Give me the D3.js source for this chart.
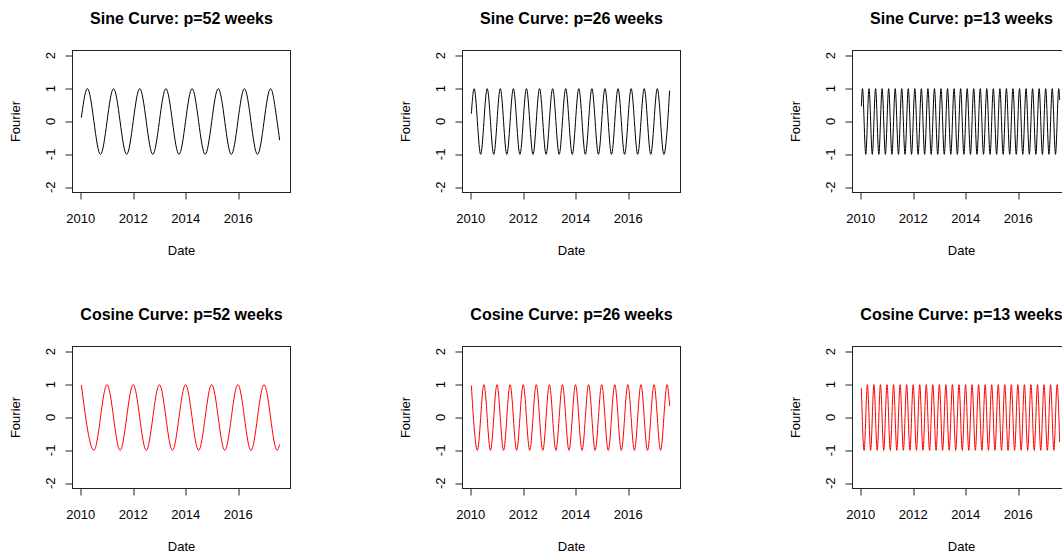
<!DOCTYPE html>
<meta charset="utf-8">
<style>
body { margin: 0; background: #fff; }
svg { display: block; font-family: "Liberation Sans", Arial, sans-serif; }
.tick-label { font-size: 13px; fill: #000; }
.axis-title { font-size: 13px; fill: #000; }
.main-title { font-size: 16px; font-weight: bold; fill: #000; }
</style>
<body>
<svg id="chart" width="1062" height="558"></svg>
<script src="https://cdn.jsdelivr.net/npm/d3@7"></script>
<script>

// turning points of each weekly series: [week number, value]
var sine52 = [[1,0.12],[13,1],[39,-1],[65,1],[91,-1],[117,1],[143,-1],[169,1],[195,-1],[221,1],
  [247,-1],[273,1],[299,-1],[325,1],[351,-1],[377,1],[390,0],[395,-0.57]];
var sine26 = [[1,0.24],[6.5,1],[19.5,-1],[32.5,1],[45.5,-1],[58.5,1],[71.5,-1],[84.5,1],[97.5,-1],
  [110.5,1],[123.5,-1],[136.5,1],[149.5,-1],[162.5,1],[175.5,-1],[188.5,1],[201.5,-1],[214.5,1],
  [227.5,-1],[240.5,1],[253.5,-1],[266.5,1],[279.5,-1],[292.5,1],[305.5,-1],[318.5,1],[331.5,-1],
  [344.5,1],[357.5,-1],[370.5,1],[383.5,-1],[395,0.94]];
var sine13 = [[1,0.46],[3.25,1],[9.75,-1],[16.25,1],[22.75,-1],[29.25,1],[35.75,-1],[42.25,1],
  [48.75,-1],[55.25,1],[61.75,-1],[68.25,1],[74.75,-1],[81.25,1],[87.75,-1],[94.25,1],[100.75,-1],
  [107.25,1],[113.75,-1],[120.25,1],[126.75,-1],[133.25,1],[139.75,-1],[146.25,1],[152.75,-1],
  [159.25,1],[165.75,-1],[172.25,1],[178.75,-1],[185.25,1],[191.75,-1],[198.25,1],[204.75,-1],
  [211.25,1],[217.75,-1],[224.25,1],[230.75,-1],[237.25,1],[243.75,-1],[250.25,1],[256.75,-1],
  [263.25,1],[269.75,-1],[276.25,1],[282.75,-1],[289.25,1],[295.75,-1],[302.25,1],[308.75,-1],
  [315.25,1],[321.75,-1],[328.25,1],[334.75,-1],[341.25,1],[347.75,-1],[354.25,1],[360.75,-1],
  [367.25,1],[373.75,-1],[380.25,1],[386.75,-1],[393.25,1],[395,0.66]];
var cosine52 = [[1,0.99],[26,-1],[52,1],[78,-1],[104,1],[130,-1],[156,1],[182,-1],[208,1],[234,-1],
  [260,1],[286,-1],[312,1],[338,-1],[364,1],[390,-1],[395,-0.82]];
var cosine26 = [[1,0.97],[13,-1],[26,1],[39,-1],[52,1],[65,-1],[78,1],[91,-1],[104,1],[117,-1],
  [130,1],[143,-1],[156,1],[169,-1],[182,1],[195,-1],[208,1],[221,-1],[234,1],[247,-1],[260,1],
  [273,-1],[286,1],[299,-1],[312,1],[325,-1],[338,1],[351,-1],[364,1],[377,-1],[390,1],[395,0.35]];
var cosine13 = [[1,0.89],[6.5,-1],[13,1],[19.5,-1],[26,1],[32.5,-1],[39,1],[45.5,-1],[52,1],
  [58.5,-1],[65,1],[71.5,-1],[78,1],[84.5,-1],[91,1],[97.5,-1],[104,1],[110.5,-1],[117,1],
  [123.5,-1],[130,1],[136.5,-1],[143,1],[149.5,-1],[156,1],[162.5,-1],[169,1],[175.5,-1],[182,1],
  [188.5,-1],[195,1],[201.5,-1],[208,1],[214.5,-1],[221,1],[227.5,-1],[234,1],[240.5,-1],[247,1],
  [253.5,-1],[260,1],[266.5,-1],[273,1],[279.5,-1],[286,1],[292.5,-1],[299,1],[305.5,-1],[312,1],
  [318.5,-1],[325,1],[331.5,-1],[338,1],[344.5,-1],[351,1],[357.5,-1],[364,1],[370.5,-1],[377,1],
  [383.5,-1],[390,1],[395,-0.75]];

var periods = [52, 26, 13];
var curveNames = ["Sine", "Cosine"];
var curveColors = ["#000000", "#ff0000"];
var series = [[sine52, sine26, sine13], [cosine52, cosine26, cosine13]];
var yTicks = [-2, -1, 0, 1, 2];
var xTickYears = [2010, 2012, 2014, 2016];
var firstWeek = new Date(2010, 0, 10);
var xLimits = [new Date(2009, 8, 9), new Date(2017, 11, 28)];
var yLimits = [-2.16, 2.16];

var svg = d3.select("#chart");
var boxW = 218, boxH = 142,
    colStep = 390, rowStep = 296,
    left0 = 72.5, top0 = 50.5, tickLen = 7;

function weekDate(w) {
  return new Date(+firstWeek + (w - 1) * 7 * 864e5);
}

var x = d3.scaleTime().domain(xLimits).range([0, boxW]);
var y = d3.scaleLinear().domain(yLimits).range([boxH, 0]);

var line = d3.line()
    .curve(d3.curveMonotoneX)
    .x(function(d) { return x(weekDate(d[0])); })
    .y(function(d) { return y(d[1]); });

curveNames.forEach(function(name, r) {
  periods.forEach(function(p, c) {
    var g = svg.append("g")
        .attr("transform", "translate(" + (left0 + c * colStep) + "," + (top0 + r * rowStep) + ")");

    g.append("path")
        .datum(series[r][c])
        .attr("d", line)
        .attr("fill", "none")
        .attr("stroke", curveColors[r])
        .attr("stroke-width", 1);

    g.append("rect")
        .attr("width", boxW)
        .attr("height", boxH)
        .attr("fill", "none")
        .attr("stroke", "#222");

    // x axis
    var xt = xTickYears.map(function(yr) { return new Date(yr, 0, 1); });
    g.selectAll(".xtick").data(xt).enter().append("line")
        .attr("x1", function(d) { return Math.round(x(d)) + 0.5; })
        .attr("x2", function(d) { return Math.round(x(d)) + 0.5; })
        .attr("y1", boxH).attr("y2", boxH + tickLen)
        .attr("stroke", "#222");
    g.selectAll(".xlab").data(xt).enter().append("text")
        .attr("class", "tick-label")
        .attr("x", function(d) { return x(d); })
        .attr("y", boxH + 25.5)
        .attr("text-anchor", "middle")
        .attr("dominant-baseline", "central")
        .text(function(d) { return d.getFullYear(); });

    // y axis
    g.selectAll(".ytick").data(yTicks).enter().append("line")
        .attr("x1", -tickLen).attr("x2", 0)
        .attr("y1", function(d) { return Math.round(y(d)) + 0.5; })
        .attr("y2", function(d) { return Math.round(y(d)) + 0.5; })
        .attr("stroke", "#222");
    g.selectAll(".ylab").data(yTicks).enter().append("text")
        .attr("class", "tick-label")
        .attr("transform", function(d) { return "translate(-22," + y(d) + ") rotate(-90)"; })
        .attr("text-anchor", "middle")
        .attr("dominant-baseline", "central")
        .text(function(d) { return d; });

    g.append("text")
        .attr("class", "axis-title")
        .attr("transform", "translate(-57," + (boxH / 2) + ") rotate(-90)")
        .attr("text-anchor", "middle")
        .attr("dominant-baseline", "central")
        .text("Fourier");

    g.append("text")
        .attr("class", "axis-title")
        .attr("x", boxW / 2)
        .attr("y", boxH + 57.5)
        .attr("text-anchor", "middle")
        .attr("dominant-baseline", "central")
        .text("Date");

    g.append("text")
        .attr("class", "main-title")
        .attr("x", boxW / 2)
        .attr("y", -32.5)
        .attr("text-anchor", "middle")
        .attr("dominant-baseline", "central")
        .text(name + " Curve: p=" + p + " weeks");
  });
});

</script>
</body>
</html>
